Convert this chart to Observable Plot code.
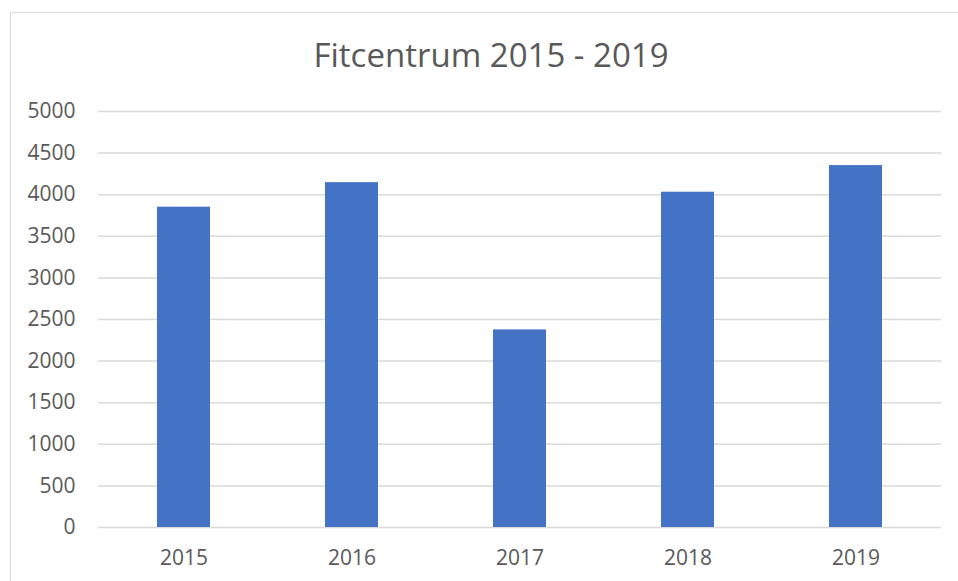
<!DOCTYPE html>
<html>
<head>
<meta charset="utf-8">
<script src="https://cdn.jsdelivr.net/npm/d3@7"></script>
<script src="https://cdn.jsdelivr.net/npm/@observablehq/plot@0.6"></script>
<style>
  html, body { margin: 0; padding: 0; background: #fff; overflow: hidden; }
  #wrap { position: relative; width: 958px; height: 581px; }
  #frame { position: absolute; left: 10px; top: 12px; width: 980px; height: 600px; border: 1px solid #d9d9d9; box-sizing: border-box; }
  #title { position: absolute; left: 0; top: 0; width: 958px; height: 80px; box-sizing: border-box; padding-top: 40px; padding-left: 24px;
           font-family: "Open Sans", sans-serif; font-size: 33px; line-height: 30px; color: #595959; text-align: center; }
  #chart { position: absolute; left: 0; top: 80px; }
</style>
</head>
<body>
<div id="wrap">
  <div id="frame"></div>
  <div id="title">Fitcentrum 2015 - 2019</div>
  <div id="chart"></div>
</div>
<script>
const years = ["2015", "2016", "2017", "2018", "2019"];
const visitors = [3850, 4145, 2375, 4030, 4350];
const yTicks = [0, 500, 1000, 1500, 2000, 2500, 3000, 3500, 4000, 4500, 5000];

const data = years.map((y, i) => ({year: y, value: visitors[i]}));

const chart = Plot.plot({
  width: 958,
  height: 501,
  marginLeft: 98,
  marginRight: 17,
  marginTop: 31,
  marginBottom: 54,
  style: {fontFamily: "Open Sans, sans-serif", fontSize: "21px", color: "#595959", background: "transparent"},
  x: {domain: years, paddingInner: 0.686, paddingOuter: 0.343, label: null, tickSize: 0, tickPadding: 24},
  y: {domain: [0, 5000], ticks: yTicks, label: null, tickSize: 0, tickPadding: 23},
  marks: [
    Plot.ruleY(yTicks, {stroke: "#d9d9d9", strokeWidth: 1.5}),
    Plot.barY(data, {x: "year", y: "value", fill: "#4472C4"}),
    Plot.axisX({tickSize: 0, tickPadding: 23, label: null, fill: "#595959"}),
    Plot.axisY({ticks: yTicks, tickFormat: d => String(d), tickSize: 0, tickPadding: 23, label: null, fill: "#595959"})
  ]
});
document.getElementById("chart").appendChild(chart);
</script>
</body>
</html>
